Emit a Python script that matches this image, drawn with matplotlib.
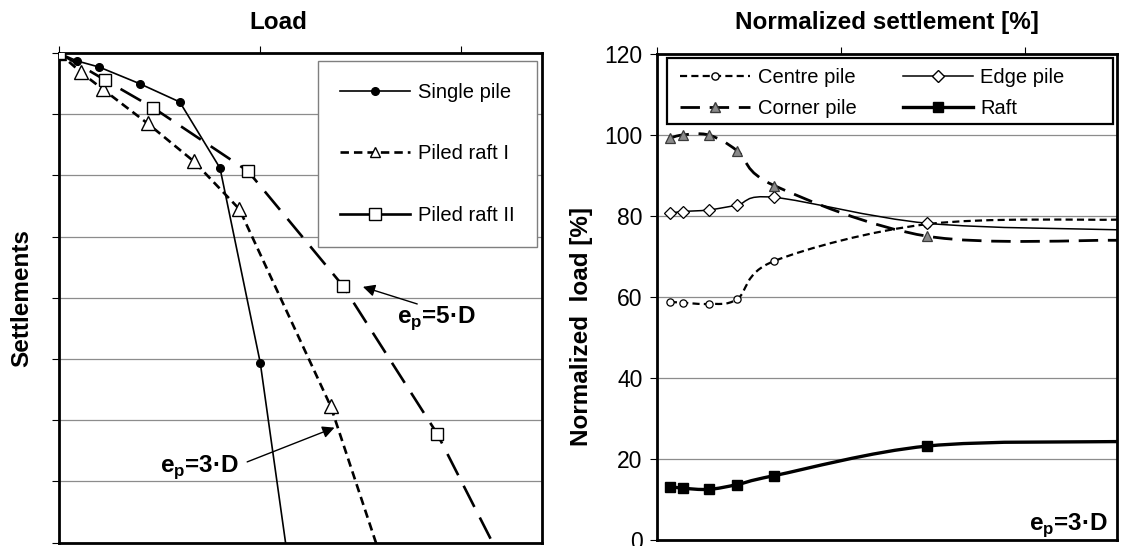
import numpy as np
import matplotlib
matplotlib.use("Agg")
import matplotlib.pyplot as plt
from matplotlib.lines import Line2D
from matplotlib.path import Path
from matplotlib.patches import PathPatch, Rectangle

plt.rcParams['font.family'] = ['Liberation Sans', 'DejaVu Sans']

# Left: load-settlement curves (relative units, settlement grows downwards)
single_load = [0.0, 0.09, 0.20, 0.40, 0.60, 0.80, 1.00, 1.13]
single_settl = [0.0, 0.13, 0.23, 0.50, 0.80, 1.88, 5.06, 8.10]
raft1_load = [0.0, 0.107, 0.217, 0.44, 0.67, 0.896, 1.35, 1.59]
raft1_settl = [0.0, 0.31, 0.59, 1.15, 1.77, 2.55, 5.77, 8.15]
raft2_load = [0.0, 0.228, 0.468, 0.939, 1.41, 1.879, 2.17]
raft2_settl = [0.0, 0.44, 0.895, 1.93, 3.80, 6.22, 8.10]

# Right: load share vs normalized settlement, e_p = 3D
norm_settl = [0.7, 1.39, 2.81, 4.36, 6.38, 14.7, 25.0]
centre_pile = [58.8, 58.6, 58.3, 59.5, 68.9, 78.0, 79.1]
edge_pile = [80.7, 81.1, 81.5, 82.7, 84.6, 78.2, 76.6]
corner_pile = [99.2, 100.0, 100.0, 96.1, 87.5, 75.0, 74.0]
raft_share = [13.2, 12.8, 12.5, 13.7, 15.9, 23.2, 24.3]
n_marked = 6  # the last value only continues the curve to the frame

bold_fs = 17.5
leg_fs = 14.5


def smooth_path(xs, ys):
    # cubic Bezier through the points (Catmull-Rom style tangents)
    pts = np.column_stack([xs, ys]).astype(float)
    verts = [pts[0]]
    codes = [Path.MOVETO]
    for i in range(len(pts) - 1):
        p0 = pts[i - 1] if i > 0 else pts[i]
        p1, p2 = pts[i], pts[i + 1]
        p3 = pts[i + 2] if i + 2 < len(pts) else pts[i + 1]
        verts += [p1 + (p2 - p0) / 6, p2 - (p3 - p1) / 6, p2]
        codes += [Path.CURVE4] * 3
    return Path(verts, codes)


fig = plt.figure(figsize=(11.24, 5.46), dpi=100)
ax1 = fig.add_axes([59 / 1124, 3.3 / 546, 483 / 1124, 489.7 / 546])
ax2 = fig.add_axes([657 / 1124, 6 / 546, 460 / 1124, 486 / 546])

# ---- left panel ----
ax1.plot(raft1_load, raft1_settl, color='black', lw=1.9, dashes=(3.2, 1.9),
         marker='^', ms=9.5, mfc='white', mec='black', mew=1.0,
         markevery=slice(0, -1), zorder=3)
ax1.plot(single_load, single_settl, color='black', lw=1.2,
         marker='o', ms=5.5, mfc='black', mec='black',
         markevery=slice(0, -1), zorder=4)
ax1.plot(raft2_load, raft2_settl, color='black', lw=1.9, dashes=(9, 4.5),
         marker='s', ms=8, mfc='white', mec='black', mew=1.0,
         markevery=slice(0, -1), zorder=5)

ax1.set_xlim(0, 2.4)
ax1.set_ylim(8, 0)
ax1.set_xticks([0, 1, 2])
ax1.set_yticks(np.arange(0, 9))
ax1.xaxis.tick_top()
ax1.tick_params(axis='both', direction='out', length=5, width=0.8,
                labelleft=False, labeltop=False)
ax1.yaxis.grid(True, color='#8c8c8c', lw=0.9)
ax1.set_axisbelow(True)
for sp in ax1.spines.values():
    sp.set_linewidth(2.0)

ax1.text(0.455, 1 + 31 / 490, 'Load', transform=ax1.transAxes,
         ha='center', va='center', fontsize=bold_fs, fontweight='bold')
ax1.text(-0.077, 0.5, 'Settlements', transform=ax1.transAxes, rotation=90,
         ha='center', va='center', fontsize=bold_fs, fontweight='bold')

left_handles = [
    Line2D([], [], color='black', lw=1.2, marker='o', ms=5.5, mfc='black'),
    Line2D([], [], color='black', lw=1.9, dashes=(3.2, 1.9), marker='^',
           ms=6.5, mfc='white', mec='black'),
    Line2D([], [], color='black', lw=1.9, marker='s', ms=8, mfc='white',
           mec='black'),
]
leg1 = ax1.legend(left_handles, ['Single pile', 'Piled raft I', 'Piled raft II'],
                  loc='upper right', bbox_to_anchor=(0.99, 0.984),
                  borderaxespad=0, fontsize=leg_fs, handlelength=3.5,
                  handletextpad=0.4, labelspacing=2.1, borderpad=1.1,
                  fancybox=False, framealpha=1, edgecolor='#7f7f7f')
leg1.get_frame().set_linewidth(1.0)

ax1.annotate('', xy=(1.51, 3.82), xytext=(1.78, 4.10),
             arrowprops=dict(arrowstyle='-|>', color='black', lw=1.0,
                             mutation_scale=18, shrinkA=0, shrinkB=0))
ax1.text(1.876, 4.33, r'e$_\mathdefault{p}$=5·D', ha='center', va='center',
         fontsize=bold_fs, fontweight='bold')
ax1.annotate('', xy=(1.369, 6.12), xytext=(0.935, 6.68),
             arrowprops=dict(arrowstyle='-|>', color='black', lw=1.0,
                             mutation_scale=18, shrinkA=0, shrinkB=0))
ax1.text(0.70, 6.76, r'e$_\mathdefault{p}$=3·D', ha='center', va='center',
         fontsize=bold_fs, fontweight='bold')

# ---- right panel ----
series = [
    (centre_pile, dict(lw=1.6, ls=(0, (3.2, 1.9))),
     dict(marker='o', ms=5.2, mfc='white', mec='black', mew=0.9)),
    (edge_pile, dict(lw=1.1, ls='-'),
     dict(marker='D', ms=6.2, mfc='white', mec='black', mew=0.9)),
    (corner_pile, dict(lw=2.0, ls=(0, (7, 3.5))),
     dict(marker='^', ms=7.5, mfc='#8a8a8a', mec='#3a3a3a', mew=0.9)),
    (raft_share, dict(lw=2.4, ls='-'),
     dict(marker='s', ms=7.2, mfc='black', mec='black')),
]
for vals, line_kw, mark_kw in series:
    ax2.add_patch(PathPatch(smooth_path(norm_settl, vals), fill=False,
                            edgecolor='black', zorder=3, **line_kw))
    ax2.plot(norm_settl[:n_marked], vals[:n_marked], ls='none', zorder=4,
             **mark_kw)

ax2.set_xlim(0, 25)
ax2.set_ylim(0, 120)
ax2.set_xticks([0, 10, 20])
ax2.set_yticks(np.arange(0, 121, 20))
ax2.xaxis.tick_top()
ax2.tick_params(axis='both', direction='out', length=5, width=0.8,
                labeltop=False, labelsize=16.5, pad=5.5)
ax2.yaxis.grid(True, color='#8c8c8c', lw=0.9)
ax2.set_axisbelow(True)
for sp in ax2.spines.values():
    sp.set_linewidth(2.0)

ax2.text(0.5, 1 + 32 / 486, 'Normalized settlement [%]', transform=ax2.transAxes,
         ha='center', va='center', fontsize=bold_fs, fontweight='bold')
ax2.text(-0.165, 0.44, 'Normalized  load [%]', transform=ax2.transAxes,
         rotation=90, ha='center', va='center', fontsize=bold_fs,
         fontweight='bold')
ax2.text(0.98, 0.021, r'e$_\mathdefault{p}$=3·D', transform=ax2.transAxes,
         ha='right', va='baseline', fontsize=bold_fs, fontweight='bold')

# legend box spans nearly the full panel width
ax2.add_patch(Rectangle((10 / 460, 415 / 485), 446 / 460, 66 / 485,
                        transform=ax2.transAxes, facecolor='white',
                        edgecolor='black', lw=1.6, zorder=5))
right_handles = [
    Line2D([], [], color='black', lw=1.6, dashes=(3.2, 1.9), marker='o',
           ms=5.2, mfc='white', mec='black'),
    Line2D([], [], color='black', lw=2.0, dashes=(7, 3.5), marker='^',
           ms=7.5, mfc='#8a8a8a', mec='#3a3a3a'),
    Line2D([], [], color='black', lw=1.1, marker='D', ms=6.2, mfc='white',
           mec='black'),
    Line2D([], [], color='black', lw=2.4, marker='s', ms=7.2, mfc='black'),
]
leg2 = ax2.legend(right_handles, ['Centre pile', 'Corner pile', 'Edge pile', 'Raft'],
                  ncol=2, loc='upper left', bbox_to_anchor=(0.05, 0.971),
                  borderaxespad=0, fontsize=leg_fs, handlelength=3.5,
                  handletextpad=0.35, labelspacing=0.6, borderpad=0,
                  columnspacing=2.3, frameon=False)
leg2.set_zorder(6)

fig.savefig('out.png', dpi=100)
